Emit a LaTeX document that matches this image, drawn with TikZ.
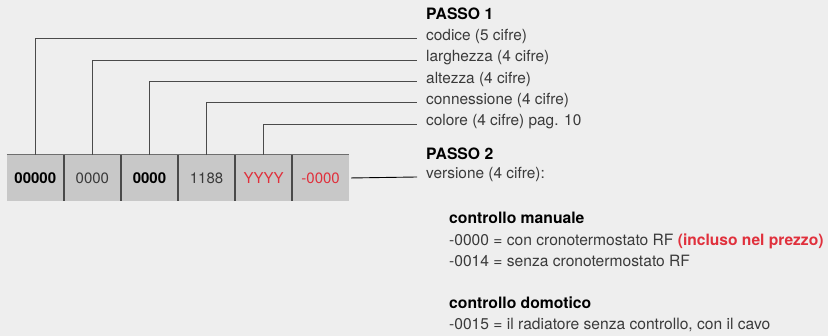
\documentclass[tikz,border=0pt]{standalone}
\usepackage{fontspec}
\setmainfont{TeX Gyre Heros}
\usetikzlibrary{positioning}
\definecolor{bggray}{HTML}{EEEEEE}
\definecolor{cellgray}{HTML}{C8C8C8}
\definecolor{txtgray}{HTML}{3A3A3A}
\definecolor{linegray}{HTML}{4A4A4A}
\definecolor{codered}{HTML}{E0303C}
\tikzset{
  cell/.style={fill=cellgray, minimum width=56.67pt, minimum height=46pt, inner sep=0pt,
    text height=11pt, text depth=0pt, font=\fontsize{15}{17}\selectfont},
  leader/.style={draw=linegray, line width=0.9pt},
  divider/.style={draw=linegray, line width=1.4pt},
  lab/.style={anchor=west, inner xsep=9pt, inner ysep=0pt, text height=7pt, text depth=3pt,
    text=txtgray, font=\fontsize{15.4}{17}\selectfont},
  head/.style={anchor=base west, inner sep=0pt, font=\fontsize{15.7}{17}\selectfont\bfseries},
  opt/.style={anchor=base west, inner sep=0pt, text=txtgray, font=\fontsize{15.6}{17}\selectfont}
}
\begin{document}
\begin{tikzpicture}[x=1pt, y=-1pt]
\useasboundingbox[fill=bggray] (0,0) rectangle (828,336);
% code boxes
\node[cell] (c1) at (35.3,178) {\bfseries 00000};
\node[cell, right=0pt of c1, text=txtgray] (c2) {0000};
\node[cell, right=0pt of c2] (c3) {\bfseries 0000};
\node[cell, right=0pt of c3, text=txtgray] (c4) {1188};
\node[cell, right=0pt of c4, text=codered] (c5) {YYYY};
\node[cell, right=0pt of c5, text=codered] (c6) {-0000};
\draw[draw=linegray!80, line width=0.8pt] (c1.north west) -- (c6.north east);
\foreach \i in {1,...,5}{
  \draw[divider] (c\i.north east) -- (c\i.south east);
}
% step 1
\node[head] (p1) at (426,20) {PASSO 1};
\foreach \i/\y/\txt in {1/38.7/{codice (5 cifre)},2/60/{larghezza (4 cifre)},
  3/81.3/{altezza (4 cifre)},4/102.7/{connessione (4 cifre)},5/124/{colore (4 cifre) pag. 10}}{
  \node[lab] (l\i) at (417,\y) {\txt};
  \draw[leader] (c\i.north) |- (l\i.west);
}
% step 2
\node[head] (p2) at (426,160) {PASSO 2};
\node[lab] (v) at (417,177) {versione (4 cifre):};
\draw[leader, draw=black, shorten <=2pt] (c6.east) -- (v.west);
\node[head] (m) at (449,224) {controllo manuale};
\node[opt] (m1) at (449,245.7) {-0000 = con cronotermostato RF \textcolor{codered}{\bfseries(incluso nel prezzo)}};
\node[opt] (m2) at (449,266.7) {-0014 = senza cronotermostato RF};
\node[head] (d) at (449,309) {controllo domotico};
\node[opt] (d1) at (449,330) {-0015 = il radiatore senza controllo, con il cavo};
\end{tikzpicture}
\end{document}
